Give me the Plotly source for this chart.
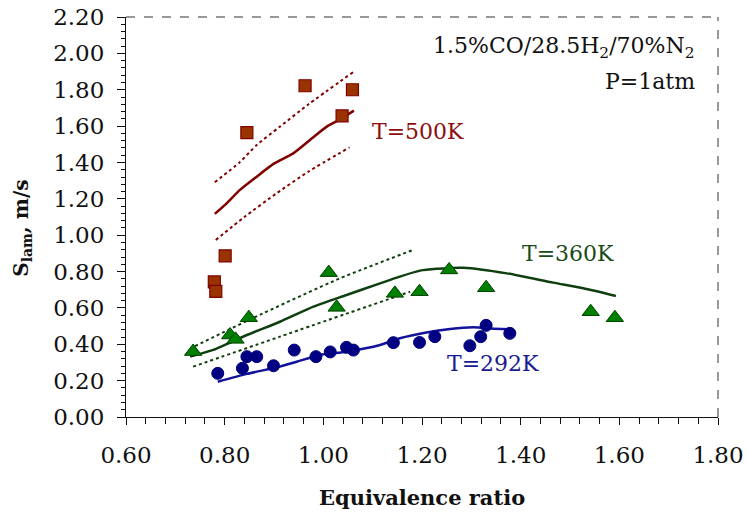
import plotly.graph_objects as go

# ---- data ----
# T=500K measurements and model
phi_500_exp = [0.963, 1.059, 1.038, 0.845, 0.801, 0.779, 0.782]
s_500_exp = [1.822, 1.800, 1.656, 1.564, 0.886, 0.743, 0.691]
phi_500_mod = [0.780, 0.804, 0.831, 0.865, 0.899, 0.939, 0.973, 1.007, 1.034, 1.062]
s_500_mod = [1.117, 1.175, 1.249, 1.322, 1.392, 1.450, 1.524, 1.597, 1.637, 1.685]
phi_500_up = [0.780, 0.830, 0.865, 0.912, 0.970, 1.061]
s_500_up = [1.291, 1.400, 1.496, 1.597, 1.720, 1.898]
phi_500_lo = [0.782, 0.840, 0.905, 0.970, 1.053]
s_500_lo = [0.974, 1.100, 1.230, 1.350, 1.483]

# T=360K
phi_360_exp = [0.736, 0.811, 0.822, 0.849, 1.011, 1.027, 1.145, 1.195, 1.255, 1.330, 1.542, 1.591]
s_360_exp = [0.360, 0.451, 0.427, 0.546, 0.794, 0.603, 0.680, 0.689, 0.809, 0.711, 0.579, 0.546]
phi_360_mod = [0.730, 0.777, 0.845, 0.912, 0.980, 1.047, 1.115, 1.155, 1.196, 1.230, 1.284, 1.372, 1.466, 1.527, 1.593]
s_360_mod = [0.332, 0.369, 0.451, 0.524, 0.607, 0.671, 0.735, 0.772, 0.805, 0.815, 0.821, 0.790, 0.739, 0.708, 0.666]
phi_360_up = [0.740, 0.858, 1.034, 1.182]
s_360_up = [0.390, 0.545, 0.763, 0.919]
phi_360_lo = [0.736, 0.912, 1.176]
s_360_lo = [0.277, 0.442, 0.689]

# T=292K
phi_292_exp = [0.786, 0.836, 0.845, 0.865, 0.899, 0.941, 0.985, 1.014, 1.047, 1.061, 1.142, 1.195, 1.226, 1.297, 1.319, 1.330, 1.378]
s_292_exp = [0.240, 0.268, 0.332, 0.332, 0.282, 0.368, 0.332, 0.358, 0.383, 0.368, 0.409, 0.410, 0.442, 0.392, 0.442, 0.504, 0.460]
phi_292_mod = [0.786, 0.845, 0.912, 0.946, 0.993, 1.047, 1.115, 1.155, 1.209, 1.257, 1.304, 1.345, 1.378]
s_292_mod = [0.194, 0.237, 0.277, 0.304, 0.341, 0.359, 0.396, 0.433, 0.465, 0.484, 0.493, 0.486, 0.482]

x_ticks = [0.6, 0.8, 1.0, 1.2, 1.4, 1.6, 1.8]
y_ticks = [0.0, 0.2, 0.4, 0.6, 0.8, 1.0, 1.2, 1.4, 1.6, 1.8, 2.0, 2.2]

FONT = "DejaVu Serif"
RED_L = "#800000"
GRN_L = "#0f3f0f"
BLU_L = "#12129a"

fig = go.Figure()

def line(x, y, color, dash="solid", width=2.5):
    fig.add_trace(go.Scatter(x=x, y=y, mode="lines",
                             line=dict(color=color, width=width, dash=dash, shape="spline", smoothing=0.6),
                             showlegend=False, hoverinfo="skip"))

line(phi_500_up, s_500_up, RED_L, "dot", 2)
line(phi_500_lo, s_500_lo, RED_L, "dot", 2)
line(phi_500_mod, s_500_mod, RED_L)
line(phi_360_up, s_360_up, GRN_L, "dot", 2)
line(phi_360_lo, s_360_lo, GRN_L, "dot", 2)
line(phi_360_mod, s_360_mod, GRN_L)
line(phi_292_mod, s_292_mod, BLU_L)

fig.add_trace(go.Scatter(x=phi_500_exp, y=s_500_exp, mode="markers", showlegend=False,
                         marker=dict(symbol="square", size=12, color="#993300",
                                     line=dict(color="#800000", width=1.2))))
fig.add_trace(go.Scatter(x=phi_360_exp, y=s_360_exp, mode="markers", showlegend=False,
                         marker=dict(symbol="triangle-up", size=15, color="#008000",
                                     line=dict(color="#004000", width=1))))
fig.add_trace(go.Scatter(x=phi_292_exp, y=s_292_exp, mode="markers", showlegend=False,
                         marker=dict(symbol="circle", size=12, color="#000080",
                                     line=dict(color="#000080", width=1))))

annos = [
    dict(x=1.095, y=1.568, text="T=500K", color="#8b0f0f"),
    dict(x=1.399, y=0.902, text="T=360K", color="#1a4a1a"),
    dict(x=1.247, y=0.297, text="T=292K", color="#1a1a90"),
]
for a in annos:
    fig.add_annotation(x=a["x"], y=a["y"], text=a["text"], showarrow=False, xanchor="left",
                       yanchor="middle", font=dict(family=FONT, size=22, color=a["color"]))
fig.add_annotation(x=0.9645, xref="paper", y=2.03, text="1.5%CO/28.5H<sub>2</sub>/70%N<sub>2</sub>",
                   showarrow=False, xanchor="right", yanchor="middle",
                   font=dict(family=FONT, size=22, color="#111"))
fig.add_annotation(x=0.9645, xref="paper", y=1.843, text="P=1atm",
                   showarrow=False, xanchor="right", yanchor="middle",
                   font=dict(family=FONT, size=22, color="#111"))

# axis titles
fig.add_annotation(x=0.5, xref="paper", y=-0.2, yref="paper", text="<b>Equivalence ratio</b>",
                   showarrow=False, xanchor="center", yanchor="middle",
                   font=dict(family=FONT, size=21, color="#111"))
fig.add_annotation(x=-0.176, xref="paper", y=0.4725, yref="paper", text="<b>S<sub>lam</sub>, m/s</b>",
                   showarrow=False, xanchor="center", yanchor="middle", textangle=-90,
                   font=dict(family=FONT, size=20, color="#111"))

# dashed top / right frame
fig.add_shape(type="line", xref="paper", yref="paper", x0=0, x1=1, y0=1, y1=1,
              line=dict(color="#333", width=1, dash="dash"))
fig.add_shape(type="line", xref="paper", yref="paper", x0=1, x1=1, y0=0, y1=1,
              line=dict(color="#333", width=1, dash="dash"))

fig.update_layout(
    width=748, height=515,
    margin=dict(l=126, r=30, t=17, b=98),
    plot_bgcolor="white", paper_bgcolor="white",
    font=dict(family=FONT, size=23, color="#111"),
    xaxis=dict(range=[0.6, 1.8], tickvals=x_ticks, ticktext=["%.2f" % v for v in x_ticks],
               showgrid=False, zeroline=False, showline=True, linecolor="#111", linewidth=1,
               ticks="outside", ticklen=7, tickcolor="#111", ticklabelstandoff=10, automargin=False,
               minor=dict(dtick=0.04, ticks="outside", ticklen=6, tickcolor="#111")),
    yaxis=dict(range=[0, 2.2], tickvals=y_ticks, ticktext=["%.2f" % v for v in y_ticks],
               showgrid=False, zeroline=False, showline=True, linecolor="#111", linewidth=1,
               ticks="outside", ticklen=8, tickcolor="#111", ticklabelstandoff=8, automargin=False,
               minor=dict(dtick=0.04, ticks="outside", ticklen=4, tickcolor="#111")),
)

fig.write_html("out.html")
